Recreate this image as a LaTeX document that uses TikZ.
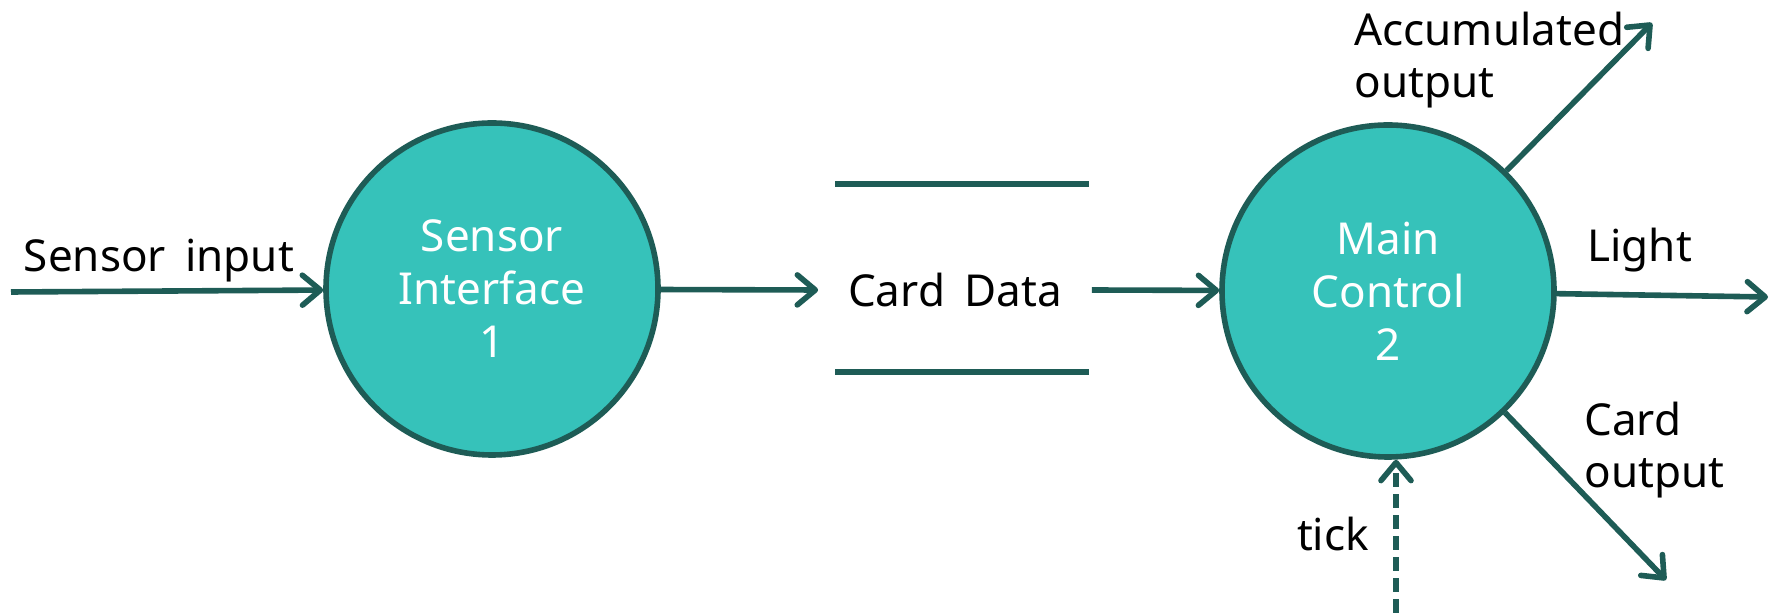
\documentclass[tikz,border=0pt]{standalone}
\usepackage{fontspec}
\setmainfont{Noto Sans}
\usetikzlibrary{arrows.meta}
\definecolor{tealfill}{RGB}{54,194,186}
\definecolor{tealdark}{RGB}{30,92,86}
\tikzset{
  proc/.style={circle, fill=tealfill, draw=tealdark, line width=2.8pt, minimum size=166pt,
    inner sep=0pt, text=white, align=center, font=\fontsize{22}{26.5}\selectfont},
  lbl/.style={inner sep=0pt, align=left, text=black, font=\fontsize{22}{26}\selectfont},
  flow/.style={draw=tealdark, line width=2.8pt,
    -{Straight Barb[length=9pt,width=15pt,line width=2.8pt,line cap=round,line join=round]}},
  storeline/.style={draw=tealdark, line width=2.8pt}
}
\begin{document}
\begin{tikzpicture}[x=0.5pt, y=-0.5pt]
\useasboundingbox (0,0) rectangle (1777,613);
% processes
\node[proc] (c1) at (492,289) {Sensor\\Interface\\1};
\node[proc] (c2) at (1388,291) {Main\\Control\\2};
% data store
\node[lbl, minimum width=136.5pt, align=center] (cd) at (955,290) {Card\hspace{4pt} Data};
\coordinate (stTL) at (835,184);
\coordinate (stTR) at (1089,184);
\coordinate (stBL) at (835,372);
\coordinate (stBR) at (1089,372);
\draw[storeline] (stTL) -- (stTR);
\draw[storeline] (stBL) -- (stBR);
% free ends
\coordinate (sin) at (11,292);
\coordinate (acc) at (1652,23);
\coordinate (lt) at (1768,297);
\coordinate (co) at (1666,580);
\coordinate (tk) at (1396,613);
% flows
\draw[flow] (sin) -- (c1);
\draw[flow] (c1) -- (cd.west);
\draw[flow] (cd.east) -- (c2);
\draw[flow] (c2) -- (acc);
\draw[flow] (c2) -- (lt);
\draw[flow] (c2) -- (co);
\draw[flow, dash pattern=on 7pt off 3.5pt] (tk) -- (tk |- c2.south);
% labels
\node[lbl] (lsin) at (159,261) {Sensor\hspace{4pt} input};
\node[lbl, anchor=west] (lacc) at (1354,60) {Accumulated\\output};
\node[lbl, anchor=west] (llt) at (1587,250) {Light};
\node[lbl, anchor=west] (lco) at (1584,450) {Card\\output};
\node[lbl] (ltk) at (1333,534) {tick};
\end{tikzpicture}
\end{document}
